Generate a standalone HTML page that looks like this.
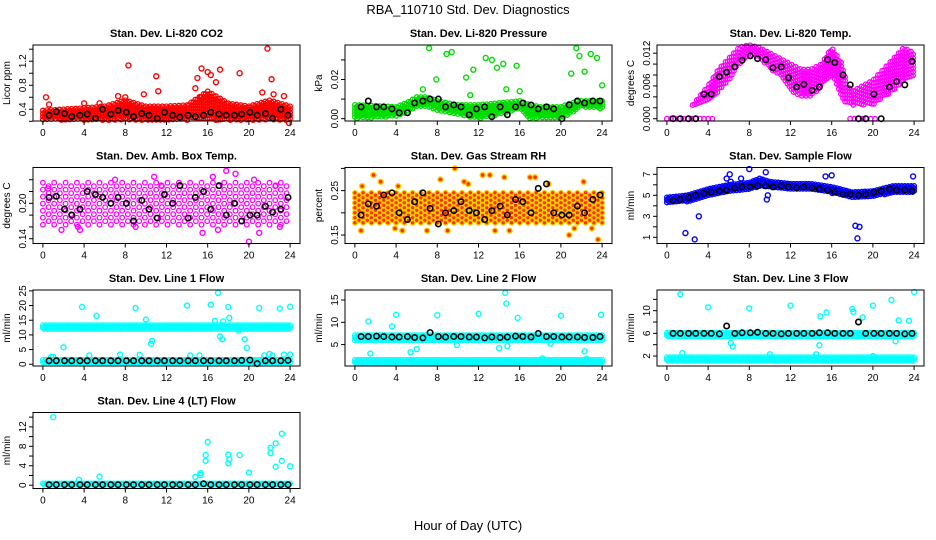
<!DOCTYPE html>
<html><head><meta charset="utf-8"><style>
html,body{margin:0;padding:0;background:#fff;}
svg{display:block;font-family:"Liberation Sans",Arial,sans-serif;}
</style></head><body>
<svg id="chart" width="936" height="540" viewBox="0 0 936 540">
<text x="468" y="14" text-anchor="middle" font-size="13">RBA_110710  Std. Dev. Diagnostics</text>
<text x="468" y="530" text-anchor="middle" font-size="13">Hour of Day (UTC)</text>
</svg>
<script>
const NS="http://www.w3.org/2000/svg";
const svg=document.getElementById('chart');
const xTicks=[0,4,8,12,16,20,24];
const meanHours=[0.6,1.3,2.1,2.8,3.6,4.3,5.1,5.8,6.6,7.3,8.1,8.8,9.6,10.3,11.1,11.8,12.6,13.3,14.1,14.8,15.6,16.3,17.1,17.8,18.6,19.3,20.1,20.8,21.6,22.3,23.1,23.8];

// ---- CO2 ----
const co2BandX=[0,2,4,6,8,10,12,14,16,18,20,22,24];
const co2BandLo=[0.22,0.22,0.22,0.22,0.22,0.22,0.22,0.22,0.22,0.22,0.22,0.22,0.22];
const co2BandHi=[0.38,0.4,0.42,0.45,0.55,0.45,0.45,0.47,0.7,0.5,0.45,0.55,0.45];
const co2OutX=[0.3,0.6,4,5.5,7.3,8,8.3,9.8,11,11.2,14.8,15,15.3,15.4,16,16.3,16.8,17.2,19.1,21.3,21.8,22.2,22.4,23.4,23.9];
const co2OutY=[0.6,0.48,0.5,0.5,0.62,0.6,1.13,0.65,0.95,0.7,0.75,0.92,0.6,1.08,1.02,0.97,0.85,1.06,1.0,0.68,1.41,0.9,0.65,0.62,0.17];
const co2Mean=[0.3,0.36,0.33,0.28,0.3,0.32,0.25,0.4,0.32,0.38,0.35,0.28,0.33,0.3,0.25,0.35,0.3,0.27,0.3,0.28,0.3,0.35,0.32,0.3,0.3,0.32,0.35,0.3,0.33,0.25,0.4,0.3];
// ---- Pressure ----
const prBandX=[0,4,5,6,7,8,10,12,14,16,17,18,20,21,22,24];
const prBandLo=[0,0.001,0.003,0.006,0.006,0.004,0.002,0,0.002,0.005,0,0,0,0.003,0.006,0.005];
const prBandHi=[0.007,0.006,0.008,0.011,0.011,0.009,0.007,0.007,0.008,0.009,0.007,0.006,0.006,0.008,0.009,0.009];
const prOutX=[6.6,7.2,7.9,8.9,9.4,10.8,11.2,11.5,12.7,13.3,13.8,14.4,14.7,15.7,16,21,21.5,21.8,22.3,22.9,23.5,24];
const prOutY=[0.015,0.036,0.020,0.033,0.034,0.021,0.012,0.025,0.031,0.030,0.026,0.028,0.015,0.027,0.014,0.023,0.036,0.032,0.024,0.033,0.031,0.017];
const prMean=[0.006,0.009,0.006,0.006,0.005,0.003,0.003,0.008,0.009,0.010,0.010,0.006,0.007,0.006,0.002,0.005,0.006,0.001,0.006,0.002,0.006,0.008,0.007,0.005,0.006,0.005,0.0,0.007,0.009,0.008,0.009,0.009];
// ---- Temp ----
const tpBandX=[2.5,4,5,6,7,8,9,10,11,12,13,14,15,16,17,17.5,18,19,20,21,22,23,24];
const tpBandLo=[0.0025,0.003,0.005,0.007,0.010,0.0115,0.0115,0.009,0.008,0.005,0.004,0.004,0.006,0.008,0.004,0.0025,0.0025,0.0025,0.0025,0.004,0.005,0.007,0.008];
const tpBandHi=[0.0025,0.006,0.009,0.011,0.013,0.0135,0.013,0.012,0.011,0.010,0.009,0.009,0.010,0.013,0.010,0.006,0.005,0.006,0.007,0.009,0.011,0.013,0.012];
const tpZeroX=[0,4.5,17.8,20.5];
const tpZeroY=[0,0,0,0];
const tpMean=[0,0,0,0,0.0045,0.0045,0.0077,0.0085,0.0095,0.0107,0.0115,0.011,0.0108,0.0093,0.0095,0.0075,0.0058,0.0063,0.0052,0.0058,0.0108,0.0103,0.008,0.0062,0,0,0.0045,0,0.0058,0.0068,0.0062,0.0105];
// ---- Amb box ----
const amBandX=[0,6,12,18,24];
const amBandLo=[0.16,0.16,0.16,0.16,0.16];
const amBandHi=[0.235,0.235,0.235,0.235,0.235];
const amOutX=[0.5,1.8,3.4,3.6,7,9,10.8,11.5,15.5,16.5,17,17.8,18.7,20,20.5,21,22.6,23];
const amOutY=[0.225,0.155,0.16,0.155,0.24,0.16,0.245,0.23,0.15,0.245,0.155,0.255,0.25,0.135,0.24,0.15,0.23,0.16];
const amMean=[0.21,0.212,0.19,0.18,0.19,0.22,0.215,0.21,0.2,0.21,0.2,0.17,0.205,0.19,0.175,0.215,0.2,0.23,0.175,0.21,0.22,0.19,0.23,0.18,0.2,0.17,0.18,0.18,0.195,0.185,0.19,0.21];
// ---- RH ----
const rhBandX=[0,8,16,24];
const rhBandLo=[0.175,0.175,0.175,0.175];
const rhBandHi=[0.245,0.245,0.245,0.245];
const rhOutX=[0.6,1.8,2.5,3.9,4.6,7,8.3,9.7,10.6,11,12.4,13.1,13.6,14.5,17,17.5,18.8,20.8,21.3,22.2,23.6,23,0.7,4.2,9,15];
const rhOutY=[0.16,0.285,0.27,0.165,0.16,0.16,0.275,0.3,0.27,0.265,0.285,0.285,0.16,0.28,0.28,0.28,0.265,0.15,0.165,0.27,0.14,0.165,0.26,0.26,0.16,0.16];
const rhMean=[0.195,0.22,0.215,0.24,0.245,0.2,0.185,0.225,0.245,0.21,0.175,0.2,0.205,0.225,0.205,0.2,0.185,0.205,0.215,0.195,0.23,0.225,0.2,0.255,0.265,0.2,0.195,0.195,0.215,0.2,0.23,0.24];
// ---- Sample flow ----
const sfBandX=[0,2,4,6,8,9,10,12,14,16,18,20,22,24];
const sfBandLo=[4.3,4.4,5.0,5.4,5.6,5.8,5.8,5.6,5.6,5.2,4.8,4.9,5.2,5.3];
const sfBandHi=[4.8,5.0,5.6,6.0,6.2,6.6,6.3,6.1,6.1,5.8,5.3,5.4,5.9,5.9];
const sfOutX=[1.8,2.7,3.1,5.8,6.1,6.2,7.2,8,9.6,9.7,9.8,15.4,16,18.3,18.5,18.7,23.9];
const sfOutY=[1.4,0.8,3.0,6.6,7.0,6.3,6.6,7.5,7.2,4.6,5.0,6.8,6.9,2.1,0.9,2.0,6.8];
const sfMean=[4.5,4.6,4.8,5.0,5.2,5.3,5.4,5.5,5.7,5.8,5.8,5.9,5.9,5.8,5.9,5.8,5.7,5.8,5.7,5.6,5.5,5.3,5.1,5.1,5.0,5.1,5.3,5.4,5.6,5.5,5.5,5.4];
// ---- Line 1 ----
const l1BandX=[0,24];
const l1BandLo=[12.0,12.0];
const l1BandHi=[13.3,13.3];
const l1LowLo=[0.3,0.3];
const l1LowHi=[1.5,1.5];
const l1OutX=[0.8,1,2,3.8,4.5,5.2,7.5,9,9.4,10,10.5,10.6,14,14.3,15.2,16.3,16.7,17,17.2,17.4,17.5,18,18.1,19,19.6,19.8,21,21.5,22,22.3,23,23.4,24,24];
const l1OutY=[2.5,2.5,5.8,19.5,3,16.5,3.3,19.2,3.2,15.2,7,8,20,3,3,20.3,14.8,24.3,9.5,8.5,14.6,19.5,15.8,11.5,8.5,5.6,19.2,3,3.5,3,19,3.3,19.6,3.3];
const l1Mean=[1.2,1.2,1.2,1.2,1.2,1.2,1.2,1.2,1.2,1.2,1.2,1.2,1.2,1.2,1.2,1.2,1.2,1.2,1.2,1.2,1.2,1.2,1.2,1.2,1.2,1.3,1.4,0.2,1.2,1.2,1.2,1.3];
// ---- Line 2 ----
const l2BandX=[0,24];
const l2BandLo=[5.8,5.8];
const l2BandHi=[7.1,7.1];
const l2LowLo=[0.5,0.5];
const l2LowHi=[1.6,1.6];
const l2OutX=[1.3,1.5,3.6,4,5.4,6,8,9.9,12,14,14.6,14.7,14.8,15.8,18.2,19,20,22.3,22.5,23.9];
const l2OutY=[10.2,3,9.1,11.7,3.3,4,11.6,4.9,11.9,4.2,16.6,14.2,4.7,11,1.9,5.2,11.5,3.5,1.8,11.7];
const l2Mean=[6.8,6.8,6.9,6.8,6.7,6.7,6.8,6.6,6.5,7.7,6.8,6.7,6.8,6.8,6.7,6.7,6.5,6.7,6.6,6.7,6.9,6.8,6.7,7.5,6.8,6.8,6.7,6.7,6.7,6.6,6.6,6.8];
// ---- Line 3 ----
const l3BandX=[0,24];
const l3BandLo=[5.4,5.4];
const l3BandHi=[6.1,6.1];
const l3LowLo=[1.1,1.1];
const l3LowHi=[1.8,1.8];
const l3OutX=[1.3,1.5,4,6.2,6.4,8,10,12,14.5,14.8,14.9,15.5,18,18.1,19,20,20,21.8,22.2,22.5,23.5,24];
const l3OutY=[12.9,2.5,10.6,4.3,3.7,10.4,2.3,10.9,2.3,3.9,9.0,9.7,10.3,9.8,8.8,10.9,2.0,11.9,4.6,8.3,8.2,13.3];
const l3Mean=[6.0,6.0,6.0,6.0,6.0,6.0,5.9,7.3,6.0,6.1,6.1,6.2,6.0,6.0,5.9,6.0,6.0,6.0,6.0,6.1,6.1,6.0,6.0,6.0,8.0,6.0,6.0,6.0,6.0,6.0,5.9,6.0];
// ---- Line 4 ----
const l4BandX=[0,24];
const l4BandLo=[0,0];
const l4BandHi=[0.35,0.35];
const l4OutX=[1,3.5,5.5,14.8,15.3,15.3,15.8,15.8,16,18,18,18.1,19.1,20,22.1,22.1,22.6,22.6,23.2,23.2,24];
const l4OutY=[14,1.1,1.8,1.7,2.5,2.1,6.2,5,8.9,6.3,4.5,5.3,6.2,2.6,7.7,6.6,3.8,8.6,10.6,5,3.9];
const l4Mean=[0.1,0.1,0.1,0.1,0.1,0.1,0.1,0.1,0.1,0.1,0.1,0.1,0.1,0.1,0.1,0.1,0.1,0.1,0.1,0.1,0.3,0.1,0.1,0.1,0.1,0.1,0.1,0.1,0.1,0.1,0.1,0.1];

const panels=[
 {name:'co2',title:'Stan. Dev. Li-820 CO2',ylab:'Licor ppm',c:0,r:0,dom:[0.205,1.47],ticks:[0.2,0.4,0.6,0.8,1.0,1.2,1.4],labels:[0.4,0.8,1.2],dec:1,col:'#ff0000',fill:'none',
  bands:[[co2BandX,co2BandLo,co2BandHi]],dx:0.2,dy:3,outX:co2OutX,outY:co2OutY,mean:co2Mean},
 {name:'pressure',title:'Stan. Dev. Li-820 Pressure',ylab:'kPa',c:1,r:0,dom:[-0.0012,0.0376],ticks:[0,0.01,0.02,0.03],labels:[0,0.02],dec:2,col:'#00dd00',fill:'none',
  bands:[[prBandX,prBandLo,prBandHi]],dx:0.2,dy:3,outX:prOutX,outY:prOutY,mean:prMean},
 {name:'temp',title:'Stan. Dev. Li-820 Temp.',ylab:'degrees C',c:2,r:0,dom:[-0.00042,0.0135],ticks:[0,0.002,0.004,0.006,0.008,0.01,0.012],labels:[0,0.006,0.012],dec:3,col:'#ff00ff',fill:'none',
  bands:[[tpBandX,tpBandLo,tpBandHi],[tpZeroX.slice(0,2),tpZeroY.slice(0,2),tpZeroY.slice(0,2)],[tpZeroX.slice(2),tpZeroY.slice(2),tpZeroY.slice(2)]],dx:0.2,dy:3.5,outX:[],outY:[],mean:tpMean},
 {name:'amb-box-temp',title:'Stan. Dev. Amb. Box Temp.',ylab:'degrees C',c:0,r:1,dom:[0.1319,0.2607],ticks:[0.14,0.16,0.18,0.2,0.22,0.24],labels:[0.14,0.2],dec:2,col:'#ff00ff',fill:'none',
  bands:[[amBandX,amBandLo,amBandHi]],dx:0.55,dy:7,outX:amOutX,outY:amOutY,mean:amMean},
 {name:'gas-stream-rh',title:'Stan. Dev. Gas Stream RH',ylab:'percent',c:1,r:1,dom:[0.131,0.302],ticks:[0.15,0.2,0.25,0.3],labels:[0.15,0.25],dec:2,col:'#ffd000',fill:'#ff3000',
  bands:[[rhBandX,rhBandLo,rhBandHi]],dx:0.4,dy:5,outX:rhOutX,outY:rhOutY,mean:rhMean},
 {name:'sample-flow',title:'Stan. Dev. Sample Flow',ylab:'ml/min',c:2,r:1,dom:[0.41,7.65],ticks:[1,2,3,4,5,6,7],labels:[1,3,5,7],dec:0,col:'#0000ff',fill:'none',
  bands:[[sfBandX,sfBandLo,sfBandHi]],dx:0.15,dy:2.5,outX:sfOutX,outY:sfOutY,mean:sfMean},
 {name:'line-1-flow',title:'Stan. Dev. Line 1 Flow',ylab:'ml/min',c:0,r:2,dom:[-0.6,25.3],ticks:[0,5,10,15,20,25],labels:[0,5,10,15,20,25],dec:0,col:'#00ffff',fill:'none',
  bands:[[l1BandX,l1BandLo,l1BandHi],[l1BandX,l1LowLo,l1LowHi]],dx:0.15,dy:2.5,outX:l1OutX,outY:l1OutY,mean:l1Mean},
 {name:'line-2-flow',title:'Stan. Dev. Line 2 Flow',ylab:'ml/min',c:1,r:2,dom:[0.2,17.25],ticks:[5,10,15],labels:[5,10,15],dec:0,col:'#00ffff',fill:'none',
  bands:[[l2BandX,l2BandLo,l2BandHi],[l2BandX,l2LowLo,l2LowHi]],dx:0.15,dy:2.5,outX:l2OutX,outY:l2OutY,mean:l2Mean},
 {name:'line-3-flow',title:'Stan. Dev. Line 3 Flow',ylab:'ml/min',c:2,r:2,dom:[0.24,13.65],ticks:[2,4,6,8,10,12],labels:[2,6,10],dec:0,col:'#00ffff',fill:'none',
  bands:[[l3BandX,l3BandLo,l3BandHi],[l3BandX,l3LowLo,l3LowHi]],dx:0.15,dy:2.5,outX:l3OutX,outY:l3OutY,mean:l3Mean},
 {name:'line-4-flow',title:'Stan. Dev. Line 4 (LT) Flow',ylab:'ml/min',c:0,r:3,dom:[-0.68,14.96],ticks:[0,2,4,6,8,10,12,14],labels:[0,4,8,12],dec:0,col:'#00ffff',fill:'none',
  bands:[[l4BandX,l4BandLo,l4BandHi]],dx:0.15,dy:2.5,outX:l4OutX,outY:l4OutY,mean:l4Mean}
];

function mk(tag,attrs,parent){const e=document.createElementNS(NS,tag);for(const k in attrs)e.setAttribute(k,attrs[k]);parent.appendChild(e);return e;}
function interp(xs,ys,h){if(h<=xs[0])return ys[0];for(let i=1;i<xs.length;i++){if(h<=xs[i]){const t=(h-xs[i-1])/(xs[i]-xs[i-1]);return ys[i-1]+t*(ys[i]-ys[i-1]);}}return ys[ys.length-1];}

panels.forEach(p=>{
  const x0=33+312*p.c, y0=45+122.5*p.r, W=267, H=76;
  const xs=h=>x0+9.9+h*(247.2/24);
  const ys=v=>y0+H*(p.dom[1]-v)/(p.dom[1]-p.dom[0]);
  const g=mk('g',{},svg);
  
  
  const t=mk('text',{x:x0+W/2,y:y0-8,'text-anchor':'middle','font-size':'11','font-weight':'bold'},g);
  t.textContent=p.title;
  
  
  const yl=mk('text',{x:0,y:0,'text-anchor':'middle','font-size':'10',transform:`translate(${x0-23},${y0+H/2}) rotate(-90)`},g);
  yl.textContent=p.ylab;
  
  
  const cg=mk('g',{fill:p.fill,stroke:p.col,'stroke-width':'1.3'},g);
  
  
  p.bands.forEach(b=>{
    const [bx,lo,hi]=b;let k=0;
    for(let h=bx[0];h<=bx[bx.length-1]+1e-9;h+=p.dx,k++){
      const yl2=ys(interp(bx,lo,h)), yh=ys(interp(bx,hi,h));
      const off=(k%2)*p.dy/2;
      for(let y=yh+off;y<=yl2+0.01;y+=p.dy){
        const c=mk('circle',{cx:xs(h).toFixed(1),cy:y.toFixed(1),r:2.3},cg);
        
        
      }
    }
  });
  p.outX.forEach((h,i)=>{
    const c=mk('circle',{cx:xs(h),cy:ys(p.outY[i]),r:2.5,fill:p.fill,stroke:p.col,'stroke-width':'1.4'},g);
    
    
  });
  p.mean.forEach((v,i)=>{
    const c=mk('circle',{cx:xs(meanHours[i]),cy:ys(v),r:2.7,fill:'none',stroke:'#000','stroke-width':'1.6'},g);
    
    
  });
  const bx=mk('rect',{x:x0,y:y0,width:W,height:H,fill:'none',stroke:'#000','stroke-width':'1'},g);
  
  
  xTicks.forEach(v=>{
    mk('line',{x1:xs(v),x2:xs(v),y1:y0+H,y2:y0+H+4,stroke:'#000'},g);
    const tl=mk('text',{x:xs(v),y:y0+H+15,'text-anchor':'middle','font-size':'10'},g);
    tl.textContent=v;
    
    
  });
  p.ticks.forEach(v=>{
    mk('line',{x1:x0,x2:x0-4,y1:ys(v),y2:ys(v),stroke:'#000'},g);
  });
  p.labels.forEach(v=>{
    const tl=mk('text',{x:0,y:0,'text-anchor':'middle','font-size':'10',transform:`translate(${x0-7},${ys(v)}) rotate(-90)`},g);
    tl.textContent=v.toFixed(p.dec);
    
    
  });
});
</script>
</body></html>
